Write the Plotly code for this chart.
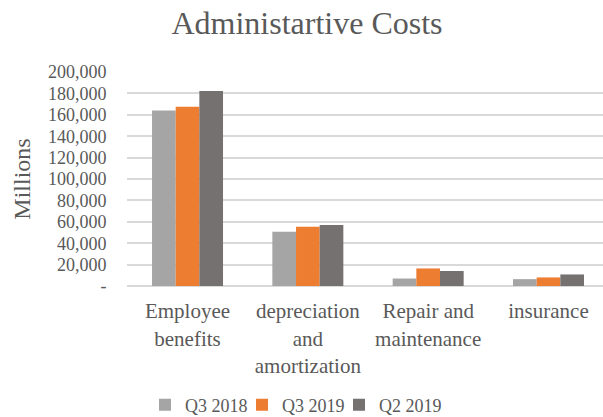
import plotly.graph_objects as go

categories = ["Employee<br>benefits", "depreciation<br>and<br>amortization", "Repair and<br>maintenance", "insurance"]
series_names = ["Q3 2018", "Q3 2019", "Q2 2019"]
q3_2018 = [164000, 50600, 7000, 6400]
q3_2019 = [167500, 55300, 16400, 8000]
q2_2019 = [182200, 56900, 14000, 10800]
colors = ["#A5A5A5", "#ED7D31", "#767171"]
tick_vals = [0, 20000, 40000, 60000, 80000, 100000, 120000, 140000, 160000, 180000, 200000]
tick_text = ["-", "20,000", "40,000", "60,000", "80,000", "100,000", "120,000", "140,000", "160,000", "180,000", "200,000"]

font_family = "Liberation Serif, Times New Roman, serif"

fig = go.Figure()
for name, vals, c in zip(series_names, [q3_2018, q3_2019, q2_2019], colors):
    fig.add_trace(go.Bar(x=categories, y=vals, name=name, marker_color=c,
                         marker_line_width=0))
# invisible spacer legend entry so the last legend label is not clipped
fig.add_trace(go.Scatter(x=[categories[0]], y=[None], name=" ", mode="markers",
                         marker=dict(color="rgba(0,0,0,0)", size=1, line=dict(width=0)),
                         showlegend=True, hoverinfo="skip"))

fig.update_layout(
    width=603, height=417,
    margin=dict(l=127, r=0, t=72, b=131, autoexpand=False),
    paper_bgcolor="white", plot_bgcolor="white",
    font=dict(family=font_family, color="#595959", size=16),
    title=dict(text="Administartive Costs", x=307/603, xanchor="center", xref="container",
               y=1 - 23/417, yanchor="middle",
               font=dict(size=32, color="#595959", family=font_family)),
    barmode="group", bargap=0.41, bargroupgap=0,
    showlegend=True,
    legend=dict(orientation="h", xref="container", yref="container",
                x=145/603, xanchor="left", y=1 - 405/417, yanchor="middle",
                font=dict(size=18, color="#595959"), traceorder="normal",
                entrywidth=52, entrywidthmode="pixels"),
    xaxis=dict(showgrid=False, showline=False, ticks="outside", ticklen=6, tickcolor="rgba(0,0,0,0)",
               tickfont=dict(size=21), tickangle=0, automargin=False,
               range=[-0.503, 3.453]),
    yaxis=dict(range=[0, 200000], tickvals=tick_vals, ticktext=tick_text,
               showgrid=True, gridcolor="#D9D9D9", gridwidth=1.5, zeroline=True,
               zerolinecolor="#D9D9D9", zerolinewidth=1.5,
               tickfont=dict(size=18), ticks="outside", ticklen=16, tickcolor="rgba(0,0,0,0)",
               automargin=False,
               title=dict(text="Millions", font=dict(size=24, color="#595959"), standoff=10)),
)

fig.write_html("out.html")
